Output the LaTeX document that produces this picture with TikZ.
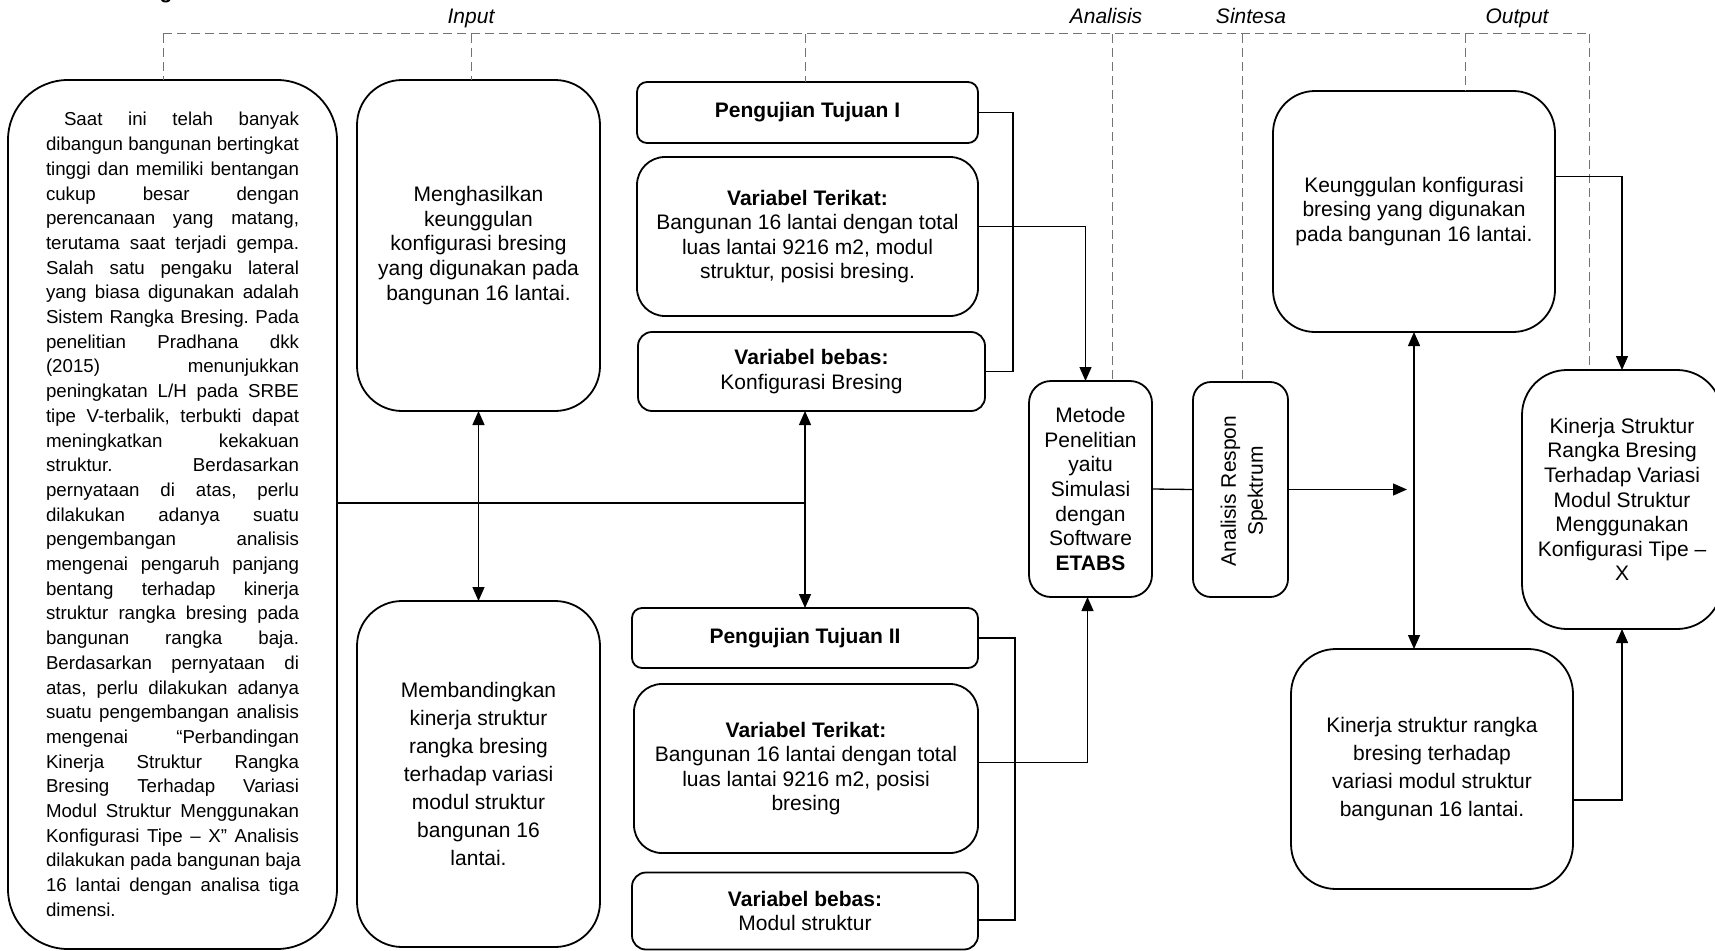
\documentclass[tikz,border=0pt]{standalone}
\usepackage{fontspec}
\setmainfont{Liberation Sans}
\usetikzlibrary{arrows.meta,calc}
\newcommand\fsz{\fontsize{21}{24.6}\selectfont}
\newcommand\fszw{\fontsize{21}{28}\selectfont}
\newcommand\lsz{\fontsize{18.7}{24.7}\selectfont\frenchspacing}
\newcommand\jl[1]{\hbox to 253pt{\spaceskip=\fontdimen2\font plus 1fil\relax #1}}
\tikzset{
  boxn/.style={draw, line width=1.8pt, rounded corners=#1, inner sep=0pt, outer sep=0pt, align=center, font=\fsz},
  boxn/.default=20pt,
  conn/.style={line width=1.3pt},
  arr/.style={conn, -{Triangle[length=14pt,width=12pt]}},
  arrb/.style={conn, {Triangle[length=14pt,width=12pt]}-{Triangle[length=14pt,width=12pt]}},
  dashln/.style={line width=1pt, draw=black!55, dash pattern=on 9pt off 5pt},
  phase/.style={font=\fsz\itshape, anchor=base, inner sep=0pt}
}
\begin{document}
\begin{tikzpicture}[x=1pt,y=-1pt]
\useasboundingbox (0,0) rectangle (1715,950);
% title fragment
\node[font=\fsz\bfseries, anchor=base, inner sep=0pt] (title) at (166,-1.5) {g};
% phase labels
\node[phase] (lin) at (471,24) {Input};
\node[phase] (lan) at (1106,24) {Analisis};
\node[phase] (lsi) at (1251,24) {Sintesa};
\node[phase] (lou) at (1517,24) {Output};

% boxes
\node[boxn=60pt, minimum width=329pt, minimum height=869pt, text width=253pt, align=left, font=\lsz] (b1) at (172.5,514.5) {%
\jl{\hskip18pt Saat ini telah banyak}
\jl{dibangun bangunan bertingkat}
\jl{tinggi dan memiliki bentangan}
\jl{cukup besar dengan}
\jl{perencanaan yang matang,}
\jl{terutama saat terjadi gempa.}
\jl{Salah satu pengaku lateral}
\jl{yang biasa digunakan adalah}
\jl{Sistem Rangka Bresing. Pada}
\jl{penelitian Pradhana dkk}
\jl{(2015) menunjukkan}
\jl{peningkatan L/H pada SRBE}
\jl{tipe V-terbalik, terbukti dapat}
\jl{meningkatkan kekakuan}
\jl{struktur. Berdasarkan}
\jl{pernyataan di atas, perlu}
\jl{dilakukan adanya suatu}
\jl{pengembangan analisis}
\jl{mengenai pengaruh panjang}
\jl{bentang terhadap kinerja}
\jl{struktur rangka bresing pada}
\jl{bangunan rangka baja.}
\jl{Berdasarkan pernyataan di}
\jl{atas, perlu dilakukan adanya}
\jl{suatu pengembangan analisis}
\jl{mengenai “Perbandingan}
\jl{Kinerja Struktur Rangka}
\jl{Bresing Terhadap Variasi}
\jl{Modul Struktur Menggunakan}
\jl{Konfigurasi Tipe – X” Analisis}
\jl{dilakukan pada bangunan baja}
\jl{16 lantai dengan analisa tiga}
\hbox to 253pt{dimensi.\hfill}};

\node[boxn=45pt, minimum width=243pt, minimum height=331pt] (b2) at (478.5,245.5)
  {Menghasilkan\\keunggulan\\konfigurasi bresing\\yang digunakan pada\\bangunan 16 lantai.};
\node[boxn=45pt, minimum width=243pt, minimum height=346pt, font=\fszw] (mb) at (478.5,774)
  {Membandingkan\\kinerja struktur\\rangka bresing\\terhadap variasi\\modul struktur\\bangunan 16\\lantai.};

\node[boxn=10pt, minimum width=341pt, minimum height=61pt] (p1) at (807.5,112.5) {\textbf{Pengujian Tujuan I}};
\node[boxn=28pt, minimum width=341pt, minimum height=159pt] (vt1) at (807.5,236.5)
  {\textbf{Variabel Terikat:}\\Bangunan 16 lantai dengan total\\luas lantai 9216 m2, modul\\struktur, posisi bresing.};
\node[boxn=14pt, minimum width=347pt, minimum height=79pt] (vb1) at (811.5,371.5)
  {\textbf{Variabel bebas:}\\Konfigurasi Bresing};

\node[boxn=10pt, minimum width=346pt, minimum height=60pt] (p2) at (805,638) {\textbf{Pengujian Tujuan II}};
\node[boxn=28pt, minimum width=344pt, minimum height=169pt] (vt2) at (806,768.5)
  {\textbf{Variabel Terikat:}\\Bangunan 16 lantai dengan total\\luas lantai 9216 m2, posisi\\bresing};
\node[boxn=14pt, minimum width=346pt, minimum height=77pt] (vb2) at (805,911)
  {\textbf{Variabel bebas:}\\Modul struktur};

\node[boxn=22pt, minimum width=123pt, minimum height=216pt] (met) at (1090.5,489)
  {Metode\\Penelitian\\yaitu\\Simulasi\\dengan\\Software\\\textbf{ETABS}};
\node[boxn=18pt, minimum width=95pt, minimum height=215pt] (ar) at (1240.5,489.5) {};
\node[rotate=90, align=center, font=\fontsize{21}{27}\selectfont, inner sep=0pt] (arl) at (1244,491) {Analisis Respon\\Spektrum};

\node[boxn=42pt, minimum width=282pt, minimum height=241pt] (kg) at (1414,211.5)
  {Keunggulan konfigurasi\\bresing yang digunakan\\pada bangunan 16 lantai.};
\node[boxn=45pt, minimum width=282pt, minimum height=240pt, font=\fszw] (kr) at (1432,769)
  {Kinerja struktur rangka\\bresing terhadap\\variasi modul struktur\\bangunan 16 lantai.};
\node[boxn=45pt, minimum width=200pt, minimum height=259pt] (ks) at (1622,499.5)
  {Kinerja Struktur\\Rangka Bresing\\Terhadap Variasi\\Modul Struktur\\Menggunakan\\Konfigurasi Tipe –\\X};

% dashed bus
\coordinate (t1) at (163,34);
\coordinate (t2) at (471,34);
\coordinate (t3) at (805,34);
\coordinate (t4) at (1112,34);
\coordinate (t5) at (1242,34);
\coordinate (t6) at (1465,34);
\coordinate (t7) at (1589,34);
\draw[dashln] (t1) -- (t7);
\draw[dashln] (t1) -- (t1 |- b1.north);
\draw[dashln] (t2) -- (t2 |- b2.north);
\draw[dashln] (t3) -- (t3 |- p1.north);
\draw[dashln] (t4) -- (t4 |- met.north);
\draw[dashln] (t5) -- (t5 |- ar.north);
\draw[dashln] (t6) -- (t6 |- kg.north);
\draw[dashln] (t7) -- (t7 |- ks.north);

% connectors
\coordinate (hl) at (0,503);
\draw[conn] (b1.east |- hl) -- (p2.north |- hl);
\draw[arrb] (p2.north |- vb1.south) -- (p2.north);
\draw[arrb] (b2.south) -- (mb.north);

\draw[conn] (p1.east) -- ++(35,0) |- (vb1.east);
\draw[arr] ($(vt1.east)+(0,-10)$) -| ($(met.north)+(-5,0)$);
\draw[conn] (p2.east) -- ++(37,0) |- ($(vb2.east)+(0,9)$);
\draw[arr] ($(vt2.east)+(0,-6)$) -| ($(met.south)+(-3,0)$);

\draw[conn] (met.east) -- (ar.west);
\draw[arr] (ar.east) -- ($(ar.east -| kg.south)+(-7,0)$);
\draw[arrb] (kg.south) -- (kg.south |- kr.north);
\draw[arr] ($(kg.east)+(0,-35)$) -| (ks.north);
\draw[arr] ($(kr.east)+(0,31)$) -| (ks.south);
\end{tikzpicture}
\end{document}
